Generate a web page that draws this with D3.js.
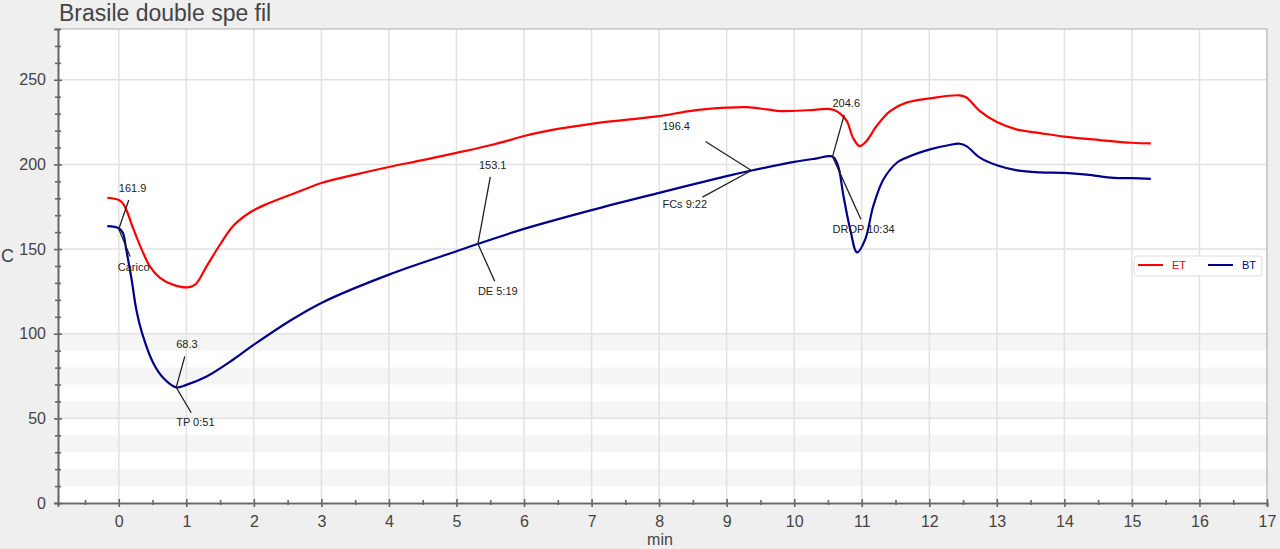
<!DOCTYPE html>
<html><head><meta charset="utf-8">
<script src="https://cdn.jsdelivr.net/npm/d3@7"></script>
<style>
html,body{margin:0;padding:0;background:#efefef;}
svg{display:block;font-family:"Liberation Sans",Arial,sans-serif;}
</style></head>
<body><svg id="c" width="1280" height="549"></svg>
<script>
// ---- data ----
const title = "Brasile double spe fil";
const etTime = [-0.17,0.0,0.05,0.11,0.21,0.34,0.46,0.61,0.8,1.01,1.13,1.3,1.5,1.69,1.94,2.19,2.68,3.0,3.5,4.0,4.5,5.0,5.5,5.8,6.0,6.5,7.0,7.5,8.0,8.5,9.0,9.3,9.6,9.8,10.2,10.5,10.6,10.68,10.78,10.87,10.97,11.07,11.22,11.42,11.66,12.01,12.45,12.55,12.75,13.0,13.29,13.64,14.0,14.52,15.0,15.28];
const etTemp = [180.3,179,177.5,173.4,162.5,149.7,139.8,133,129,127.4,129,139.8,152.7,163.5,171.6,176.6,184.2,189,194,198.5,202.5,206.8,211.3,214.5,216.8,221,224,226.3,228.5,231.8,233.5,233.8,232.5,231.5,232,232.8,232,230,225.6,215.8,210.8,213.8,222.7,231.5,236.5,239,240.8,239.5,231.5,225,220.7,218.5,216.4,214.4,212.8,212.4];
const btTime = [-0.17,0.0,0.06,0.11,0.19,0.26,0.36,0.51,0.66,0.85,1.0,1.3,1.69,2.0,2.5,3.0,4.0,5.0,5.32,6.0,7.0,8.0,9.0,9.37,10.0,10.3,10.57,10.65,10.73,10.83,10.93,11.05,11.17,11.32,11.52,11.66,12.01,12.3,12.45,12.55,12.75,13.0,13.3,13.64,14.0,14.33,14.73,15.0,15.28];
const btTemp = [163.5,162.3,159.6,149.7,132,114.2,98.4,82.7,73.8,68.3,69.8,74.7,84.6,93.5,106.8,118.2,134.9,148.7,153.1,161.9,173,183.2,193.1,196.4,201.5,203.3,204.6,199,181.2,161.5,148,155.6,175.3,191.1,201,204,208.9,211.5,212.2,210.8,204,199.5,196.5,195.3,195,194,192.1,191.9,191.5];
const eventNames = ["Carico","TP 0:51","DE 5:19","FCs 9:22","DROP 10:34"];
const eventTime = [0, 0.85, 5.317, 9.367, 10.567];
const eventTemp = [161.9, 68.3, 153.1, 196.4, 204.6];
const seriesNames = ["ET","BT"];
const xTickValues = d3.range(0, 18, 1);
const yTickValues = [0,50,100,150,200,250];

// ---- layout ----
const W=1280,H=549, L=58,R=1267,T=29,B=503;
const colors = {ET:"#ff0000", BT:"#00008b"};
// annotation offsets in px: [upperLineDx,upperLineDy,upperTextDx,upperTextDy,lowerLineDx,lowerLineDy,lowerTextDx,lowerTextDy]
const annOff = [
  [10,-29,0,-41, 11.4,27.7,-1,38],
  [8.6,-31,0,-43, 15,25.4,0,35],
  [12.4,-67,1,-79, 16.8,37.4,0,47],
  [-46,-29,-89,-44, -49,26.6,-89,34],
  [11.7,-41.7,0,-53, 28.4,62.6,0,72.6]
];

const svg = d3.select("#c");
const x = d3.scaleLinear().domain([-0.9,17]).range([L,R]);
const y = d3.scaleLinear().domain([0,280]).range([B,T]);

// plot background
svg.append("rect").attr("x",L).attr("y",T).attr("width",R-L).attr("height",B-T).attr("fill","#fff");
// stripes
[10,30,50,70,90].forEach(v=>{
  svg.append("rect").attr("x",L).attr("width",R-L).attr("y",y(v+10)).attr("height",y(v)-y(v+10)).attr("fill","#f5f5f5");
});
// grid
svg.append("g").selectAll("line").data(xTickValues.filter(d=>d<17)).join("line")
  .attr("x1",d=>x(d)).attr("x2",d=>x(d)).attr("y1",T).attr("y2",B)
  .attr("stroke","#e2e2e2").attr("stroke-width",1.5);
svg.append("g").selectAll("line").data(yTickValues.filter(d=>d>0)).join("line")
  .attr("x1",L).attr("x2",R).attr("y1",d=>y(d)).attr("y2",d=>y(d))
  .attr("stroke","#e2e2e2").attr("stroke-width",1.5);
// frame top/right
svg.append("line").attr("x1",L).attr("x2",R).attr("y1",T).attr("y2",T).attr("stroke","#b0b0b0").attr("stroke-width",1.2);
svg.append("line").attr("x1",R).attr("x2",R).attr("y1",T).attr("y2",B).attr("stroke","#b0b0b0").attr("stroke-width",1.2);

// axes
const ax = svg.append("g").attr("transform",`translate(0,${B})`)
  .call(d3.axisBottom(x).tickValues(xTickValues).tickSize(4).tickPadding(9).tickFormat(d3.format("d")));
const axMinor = svg.append("g").attr("transform",`translate(0,${B})`)
  .call(d3.axisBottom(x).tickValues(d3.range(-0.5,17,1)).tickSize(3).tickFormat(""));
const ay = svg.append("g").attr("transform",`translate(${L},0)`)
  .call(d3.axisLeft(y).tickValues(yTickValues).tickSize(4).tickPadding(8));
const ayMinor = svg.append("g").attr("transform",`translate(${L},0)`)
  .call(d3.axisLeft(y).tickValues(d3.range(10,290,10).filter(v=>v%50!==0)).tickSize(3).tickFormat(""));
[ax,axMinor,ay,ayMinor].forEach(g=>{
  g.select(".domain").attr("stroke","#666").attr("stroke-width",1.6);
  g.selectAll(".tick line").attr("stroke","#666").attr("stroke-width",1.6);
  g.selectAll(".tick text").attr("fill","#444").style("font-size","16px").style("font-family","Liberation Sans, Arial, sans-serif");
});
ax.selectAll(".tick line").attr("y1",-4).attr("y2",4);
axMinor.selectAll(".tick line").attr("y1",-3).attr("y2",2);
ay.selectAll(".tick line").attr("x1",4).attr("x2",-4);
ayMinor.selectAll(".tick line").attr("x1",3).attr("x2",-3);

// titles
svg.append("text").attr("x",59).attr("y",21).text(title).attr("fill","#444").style("font-size","23px");
svg.append("text").attr("x",660).attr("y",545).attr("text-anchor","middle").text("min").attr("fill","#444").style("font-size","16px");
svg.append("text").attr("x",1).attr("y",262).text("C").attr("fill","#444").style("font-size","18px");

// curves
const line = d3.line().x(d=>x(d[0])).y(d=>y(d[1])).curve(d3.curveCatmullRom.alpha(0.5));
const etData = etTime.map((t,i)=>[t,etTemp[i]]);
const btData = btTime.map((t,i)=>[t,btTemp[i]]);
svg.append("path").datum(etData).attr("d",line).attr("fill","none").attr("stroke",colors.ET).attr("stroke-width",2.2).attr("stroke-linejoin","round");
svg.append("path").datum(btData).attr("d",line).attr("fill","none").attr("stroke",colors.BT).attr("stroke-width",2.2).attr("stroke-linejoin","round");

// annotations
const ann = svg.append("g");
eventNames.forEach((name,i)=>{
  const px=x(eventTime[i]), py=y(eventTemp[i]); const o=annOff[i];
  ann.append("line").attr("x1",px).attr("y1",py).attr("x2",px+o[0]).attr("y2",py+o[1]).attr("stroke","#222").attr("stroke-width",1.3);
  ann.append("line").attr("x1",px).attr("y1",py).attr("x2",px+o[4]).attr("y2",py+o[5]).attr("stroke","#222").attr("stroke-width",1.3);
  ann.append("text").attr("x",px+o[2]).attr("y",py+o[3]).attr("dy","0.35em").text(eventTemp[i].toFixed(1)).attr("fill","#222").style("font-size","11px");
  ann.append("text").attr("x",px+o[6]).attr("y",py+o[7]).attr("dy","0.35em").text(name).attr("fill","#222").style("font-size","11px");
});

// legend
const lg = svg.append("g");
lg.append("rect").attr("x",1134).attr("y",256).attr("width",128).attr("height",20).attr("rx",3)
  .attr("fill","#fff").attr("stroke","#ddd").attr("stroke-width",1);
seriesNames.forEach((s,i)=>{
  const x0 = 1138 + i*70;
  lg.append("line").attr("x1",x0).attr("x2",x0+25).attr("y1",265).attr("y2",265).attr("stroke",colors[s]).attr("stroke-width",2);
  lg.append("text").attr("x",x0+34).attr("y",265).attr("dy","0.35em").text(s).attr("fill",colors[s]).style("font-size","11px");
});
</script></body></html>
